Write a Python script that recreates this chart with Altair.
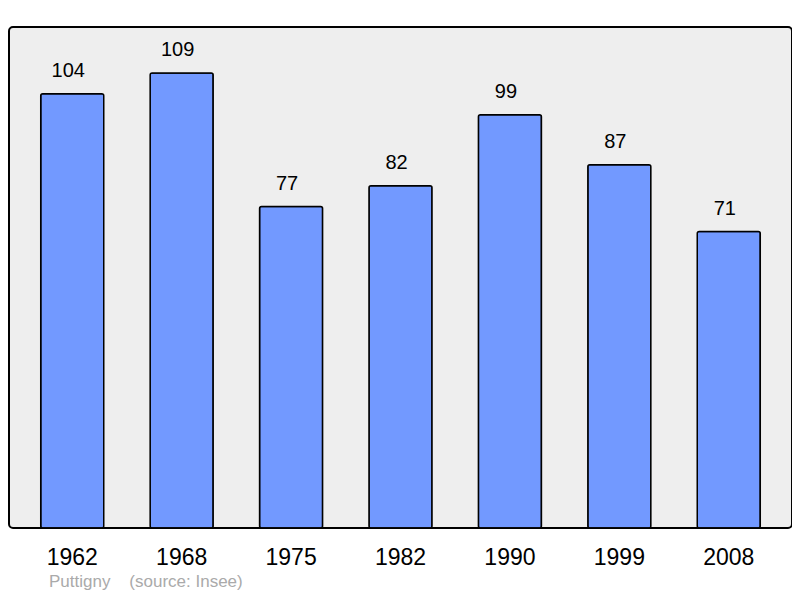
import altair as alt
import pandas as pd

years = ["1962", "1968", "1975", "1982", "1990", "1999", "2008"]
population = [104, 109, 77, 82, 99, 87, 71]
footer = "Puttigny\u00a0\u00a0\u00a0\u00a0(source: Insee)"

df = pd.DataFrame({"year": years, "pop": population})

FONT = "Liberation Sans"

x = alt.X(
    "year:N",
    sort=years,
    scale=alt.Scale(paddingInner=0.424, paddingOuter=0.29),
    axis=alt.Axis(
        title=None,
        labelAngle=0,
        labelFontSize=23,
        labelColor="black",
        labelFont=FONT,
        ticks=False,
        domain=False,
        labelPadding=18,
    ),
)
y = alt.Y("pop:Q", scale=alt.Scale(domain=[0, 120]), axis=None)

bars = alt.Chart(df).mark_bar(
    color="#7299ff", stroke="black", strokeWidth=1.5, cornerRadius=2
).encode(x=x, y=y)

labels = alt.Chart(df).mark_text(
    baseline="bottom", dy=-13, dx=-4, fontSize=20, font=FONT, color="black"
).encode(x=x, y=y, text="pop:Q")

chart = (
    (bars + labels)
    .properties(
        width=783,
        height=501,
        autosize="none",
        padding={"left": 1, "top": 19, "right": 0, "bottom": 62},
        title=alt.TitleParams(
            text=footer,
            orient="bottom",
            anchor="start",
            dx=40,
            offset=5,
            fontSize=17,
            font=FONT,
            fontWeight="normal",
            color="#aaaaaa",
        ),
    )
    .configure_view(fill="#eeeeee", stroke="black", strokeWidth=2, cornerRadius=4)
)

chart.save("out.html", embed_options={"renderer": "svg", "actions": False})
